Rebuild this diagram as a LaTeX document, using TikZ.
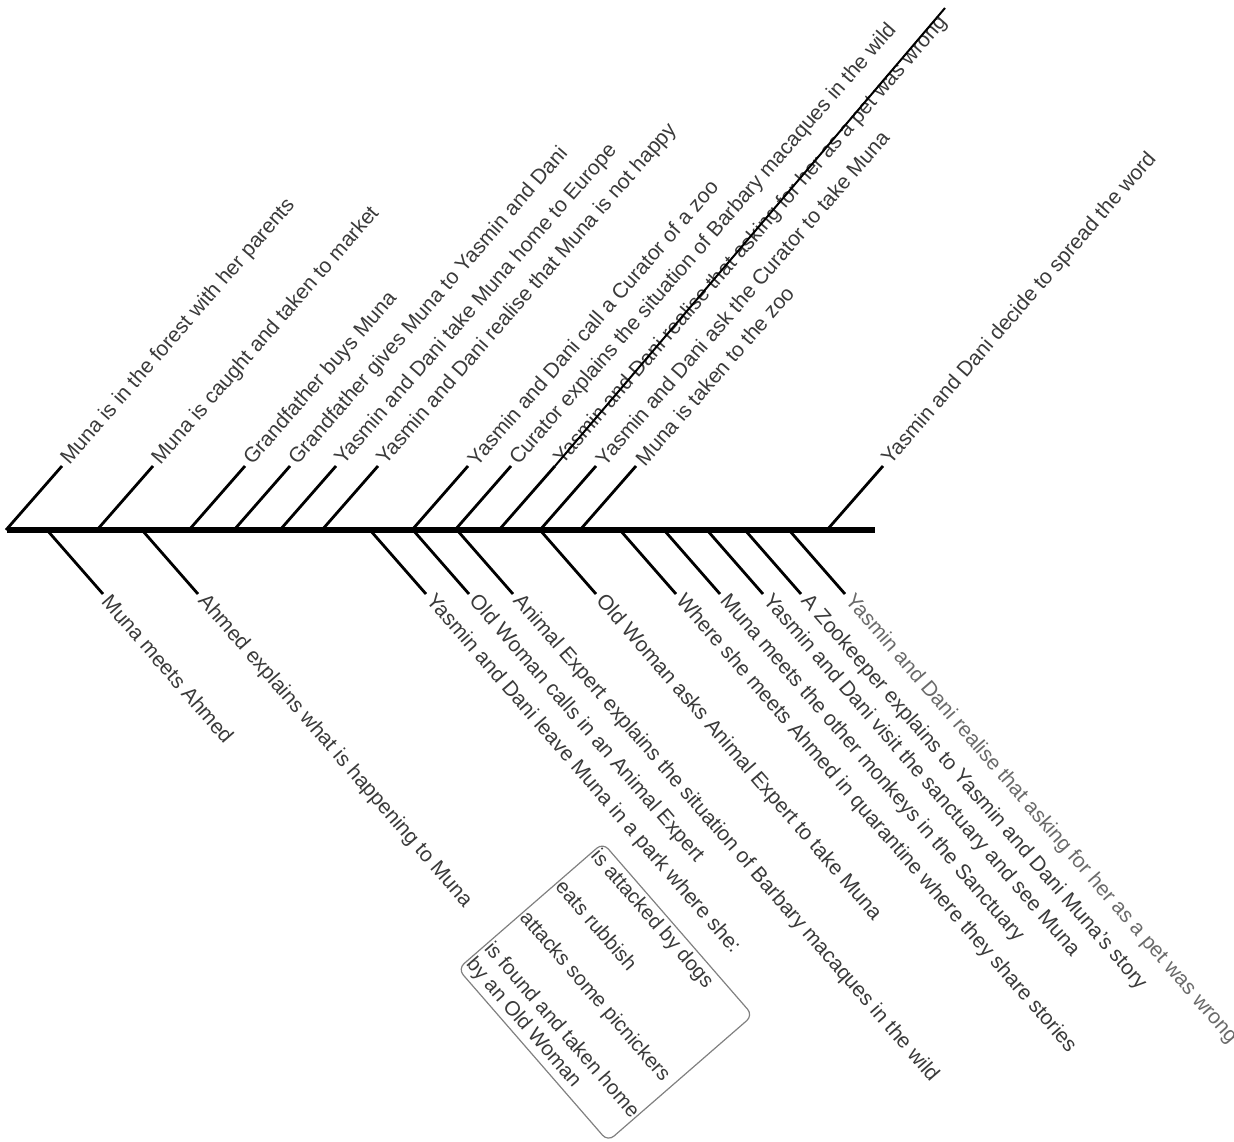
\documentclass[tikz,border=0pt]{standalone}
\usepackage{fontspec}
\setmainfont{Liberation Sans}
\usetikzlibrary{calc}
\definecolor{txtgray}{HTML}{3A3A3A}
\definecolor{lightgray}{HTML}{6A6A6A}

\begin{document}
\begin{tikzpicture}[x=1pt,y=-1pt,font=\fontsize{21}{24}\selectfont,
  bone/.style={line width=2.8pt},
  uplbl/.style={anchor=west,rotate=49,inner sep=5pt,text=txtgray},
  dnlbl/.style={anchor=west,rotate=-49,inner sep=5pt,text=txtgray}]

\useasboundingbox (0,0) rectangle (1234,1142);

% spine
\coordinate (head) at (7,530);
\coordinate (tail) at (875,530);
\draw[line width=5.5pt] (head) -- (tail);

% upper branches
\foreach \x/\n/\t in {6/1/{Muna is in the forest with her parents},
  97/2/{Muna is caught and taken to market},
  189/3/{Grandfather buys Muna},
  234/4/{Grandfather gives Muna to Yasmin and Dani},
  280/5/{Yasmin and Dani take Muna home to Europe},
  322/6/{Yasmin and Dani realise that Muna is not happy},
  412/7/{Yasmin and Dani call a Curator of a zoo},
  455/8/{Curator explains the situation of Barbary macaques in the wild},
  499/9/{Yasmin and Dani realise that asking for her as a pet was wrong},
  540/10/{Yasmin and Dani ask the Curator to take Muna},
  580/11/{Muna is taken to the zoo},
  827/12/{Yasmin and Dani decide to spread the word}}
{\coordinate (us\n) at (\x,530);
\coordinate (ut\n) at ($(us\n)+(56,-64)$);
\node[uplbl] (u\n) at (ut\n) {\t};
\draw[bone] (us\n) -- (ut\n);}

% struck-through label
\coordinate (strike) at (945,8);
\draw[line width=2pt] (ut9) -- (strike);

% lower branches
\foreach \x/\n/\t in {47/1/{Muna meets Ahmed},
  142/2/{Ahmed explains what is happening to Muna},
  370/3/{Yasmin and Dani leave Muna in a park where she:},
  413/4/{Old Woman calls in an Animal Expert},
  457/5/{Animal Expert explains the situation of Barbary macaques in the wild},
  540/6/{Old Woman asks Animal Expert to take Muna},
  620/7/{Where she meets Ahmed in quarantine where they share stories},
  664/8/{Muna meets the other monkeys in the Sanctuary},
  707/9/{Yasmin and Dani visit the sanctuary and see Muna},
  745/10/{A Zookeeper explains to Yasmin and Dani Muna's story}}
{\coordinate (ds\n) at (\x,530);
\coordinate (dt\n) at ($(ds\n)+(56,64)$);
\node[dnlbl] (d\n) at (dt\n) {\t};
\draw[bone] (ds\n) -- (dt\n);}

\coordinate (ds11) at (789,530);
\coordinate (dt11) at ($(ds11)+(56,64)$);
\node[dnlbl,text=lightgray] (d11) at (dt11) {Yasmin and Dani realise that asking for her as a pet was wrong};
\draw[bone] (ds11) -- (dt11);

% what happens in the park
\node[draw=black!50,line width=1.2pt,rounded corners=8pt,rotate=-49,anchor=north west,
  font=\fontsize{20.5}{24}\selectfont,inner xsep=2pt,inner ysep=4pt,align=left,text=txtgray] (park) at (603,842)
  {is attacked by dogs\\[23pt] eats rubbish\\[23pt] attacks some picnickers\\[23pt]
   is found and taken home\\ by an Old Woman};

\end{tikzpicture}
\end{document}
